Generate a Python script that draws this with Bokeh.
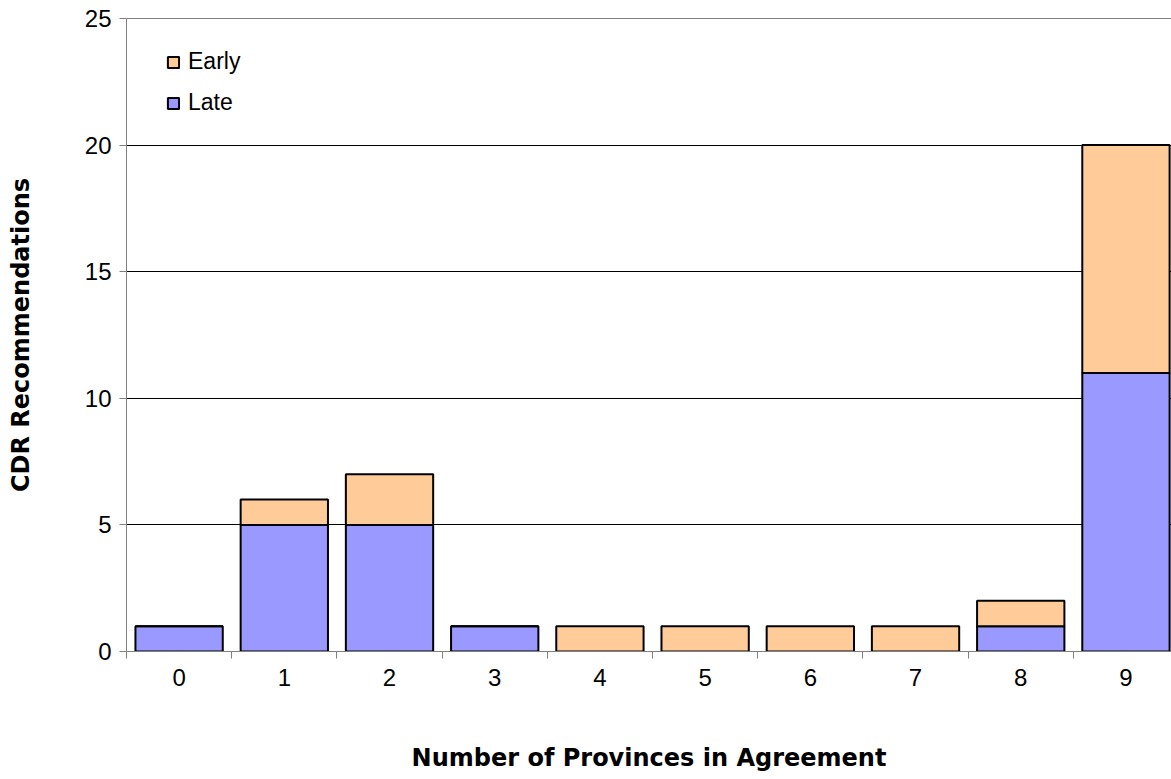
from bokeh.plotting import figure
from bokeh.models import (ColumnDataSource, FixedTicker, Legend, LegendItem,
                          LinearAxis, Range1d)
from bokeh.embed import file_html
from bokeh.resources import INLINE

# Number of provinces in agreement (0..9)
provinces = [0, 1, 2, 3, 4, 5, 6, 7, 8, 9]
late = [1, 5, 5, 1, 0, 0, 0, 0, 1, 11]
early = [0, 1, 2, 0, 1, 1, 1, 1, 1, 9]
y_ticks = [0, 5, 10, 15, 20, 25]

FONT = "Liberation Sans"
TITLE_FONT = "DejaVu Sans"
EARLY_COLOR = "#FFCC99"
LATE_COLOR = "#9999FF"

source = ColumnDataSource(dict(x=provinces, late=late, early=early))

p = figure(width=1171, height=779, output_backend="svg", toolbar_location=None,
           x_range=Range1d(-0.5, 9.433), y_range=Range1d(0, 25),
           min_border_left=126, min_border_right=0, min_border_top=18,
           min_border_bottom=128, outline_line_color=None)

renderers = p.vbar_stack(["late", "early"], x="x", width=0.83, source=source,
                         color=[LATE_COLOR, EARLY_COLOR], line_color="black",
                         line_width=2)

# y axis
p.yaxis.ticker = FixedTicker(ticks=y_ticks)
p.yaxis.axis_label = "CDR Recommendations"
p.yaxis.axis_label_text_font = TITLE_FONT
p.yaxis.axis_label_text_font_style = "bold"
p.yaxis.axis_label_text_font_size = "24px"
p.yaxis.axis_label_text_color = "black"
p.yaxis.axis_label_standoff = 47
p.yaxis.major_label_text_font = FONT
p.yaxis.major_label_text_font_size = "24px"
p.yaxis.major_label_text_color = "black"
p.yaxis.major_label_standoff = 8
p.yaxis.axis_line_color = "#808080"
p.yaxis.major_tick_line_color = "#808080"
p.yaxis.major_tick_out = 7
p.yaxis.major_tick_in = 0
p.yaxis.minor_tick_line_color = None

# x axis: labels at category centres, tick marks at category boundaries
boundaries = [c - 0.5 for c in provinces] + [provinces[-1] + 0.5]
p.xaxis.ticker = FixedTicker(ticks=provinces, minor_ticks=boundaries)
p.xaxis.axis_label = "Number of Provinces in Agreement"
p.xaxis.axis_label_text_font = TITLE_FONT
p.xaxis.axis_label_text_font_style = "bold"
p.xaxis.axis_label_text_font_size = "24px"
p.xaxis.axis_label_text_color = "black"
p.xaxis.axis_label_standoff = 55
p.xaxis.major_label_text_font = FONT
p.xaxis.major_label_text_font_size = "24px"
p.xaxis.major_label_text_color = "black"
p.xaxis.major_label_standoff = 10
p.xaxis.axis_line_color = "#808080"
p.xaxis.major_tick_line_color = None
p.xaxis.minor_tick_line_color = "#808080"
p.xaxis.minor_tick_out = 7
p.xaxis.minor_tick_in = 0

# top border of the plot area
top = LinearAxis(ticker=FixedTicker(ticks=[]), axis_line_color="#808080",
                 major_tick_line_color=None, minor_tick_line_color=None)
p.add_layout(top, "above")

p.xgrid.grid_line_color = None
p.ygrid.ticker = FixedTicker(ticks=y_ticks[1:-1])
p.ygrid.grid_line_color = "black"
p.ygrid.grid_line_width = 1

legend = Legend(items=[LegendItem(label="Early", renderers=[renderers[1]]),
                       LegendItem(label="Late", renderers=[renderers[0]])],
                location=(40, 535), margin=0, padding=10,
                border_line_color=None, background_fill_alpha=0,
                glyph_width=14, glyph_height=14, label_height=24, spacing=14,
                label_text_font=FONT, label_text_font_size="23px",
                label_text_color="black", label_standoff=8)
p.add_layout(legend)

open("out.html", "w").write(file_html(p, INLINE))
